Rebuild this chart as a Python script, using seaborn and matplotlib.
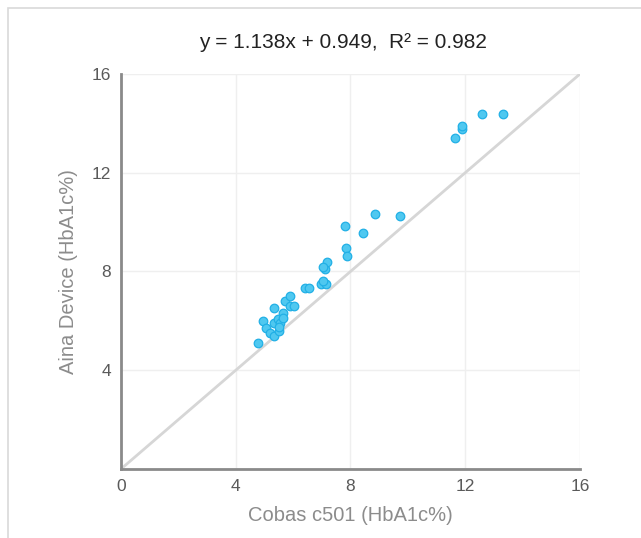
import matplotlib
matplotlib.use("Agg")
import matplotlib.pyplot as plt
import seaborn as sns
import pandas as pd
from matplotlib.patches import Rectangle

cobas = [4.78, 4.95, 5.05, 5.19, 5.33, 5.52, 5.33, 5.33, 5.46, 5.54, 5.63, 5.65, 5.50,
         5.72, 5.90, 5.89, 6.03, 6.40, 6.56, 6.98, 7.14, 7.12, 7.18, 7.05, 7.05,
         7.81, 7.83, 7.88, 8.43, 8.85, 9.74, 11.65, 11.89, 11.89, 12.59, 13.32]
aina = [5.11, 6.00, 5.70, 5.51, 5.40, 5.60, 6.51, 5.91, 6.07, 5.91, 6.30, 6.10, 5.75,
        6.79, 7.02, 6.60, 6.60, 7.32, 7.32, 7.51, 7.51, 8.08, 8.37, 8.20, 7.60,
        9.84, 8.94, 8.64, 9.55, 10.34, 10.25, 13.39, 13.78, 13.91, 14.39, 14.39]

ticks = [0, 4, 8, 12, 16]
title = "y = 1.138x + 0.949,  R\u00b2 = 0.982"

df = pd.DataFrame({"Cobas": cobas, "Aina": aina})

sns.set_theme(style="white")
plt.rcParams["font.family"] = ["Liberation Sans", "DejaVu Sans"]

fig = plt.figure(figsize=(6.41, 5.38), dpi=100)
ax = fig.add_axes([0.1888, 0.1283, 0.9048 - 0.1888, 0.8625 - 0.1283])

fig.patches.append(Rectangle((8 / 641, -0.1), 1.2, 1 - 8 / 538 + 0.1,
                             transform=fig.transFigure, fill=False,
                             edgecolor="#d9d9d9", linewidth=1.2))

ax.set_xlim(0, 16)
ax.set_ylim(0, 16)
ax.set_xticks(ticks)
ax.set_yticks(ticks)
ax.set_yticklabels(["" if t == 0 else str(t) for t in ticks])
ax.grid(True, color="#efefef", linewidth=1)
ax.set_axisbelow(True)

ax.axline((0, 0), slope=1, color="#d6d6d6", linewidth=2, zorder=1)

sns.scatterplot(data=df, x="Cobas", y="Aina", ax=ax, s=38, color="#4fc8f0",
                edgecolor="#22b0e6", linewidth=0.9, zorder=3)

for side in ["top", "right"]:
    ax.spines[side].set_visible(False)
for side in ["left", "bottom"]:
    ax.spines[side].set_color("#8a8a8a")
    ax.spines[side].set_linewidth(2)

ax.tick_params(axis="both", length=0, labelsize=12.5, labelcolor="#5a5a5a", pad=7)
ax.set_xlabel("Cobas c501 (HbA1c%)", fontsize=14.5, color="#8c8c8c", labelpad=9)
ax.set_ylabel("Aina Device (HbA1c%)", fontsize=14.5, color="#8c8c8c", labelpad=10)

fig.text(343 / 641, 1 - 42 / 538, title, ha="center", va="center",
         fontsize=15, color="#222222")

fig.savefig("out.png", dpi=100)
